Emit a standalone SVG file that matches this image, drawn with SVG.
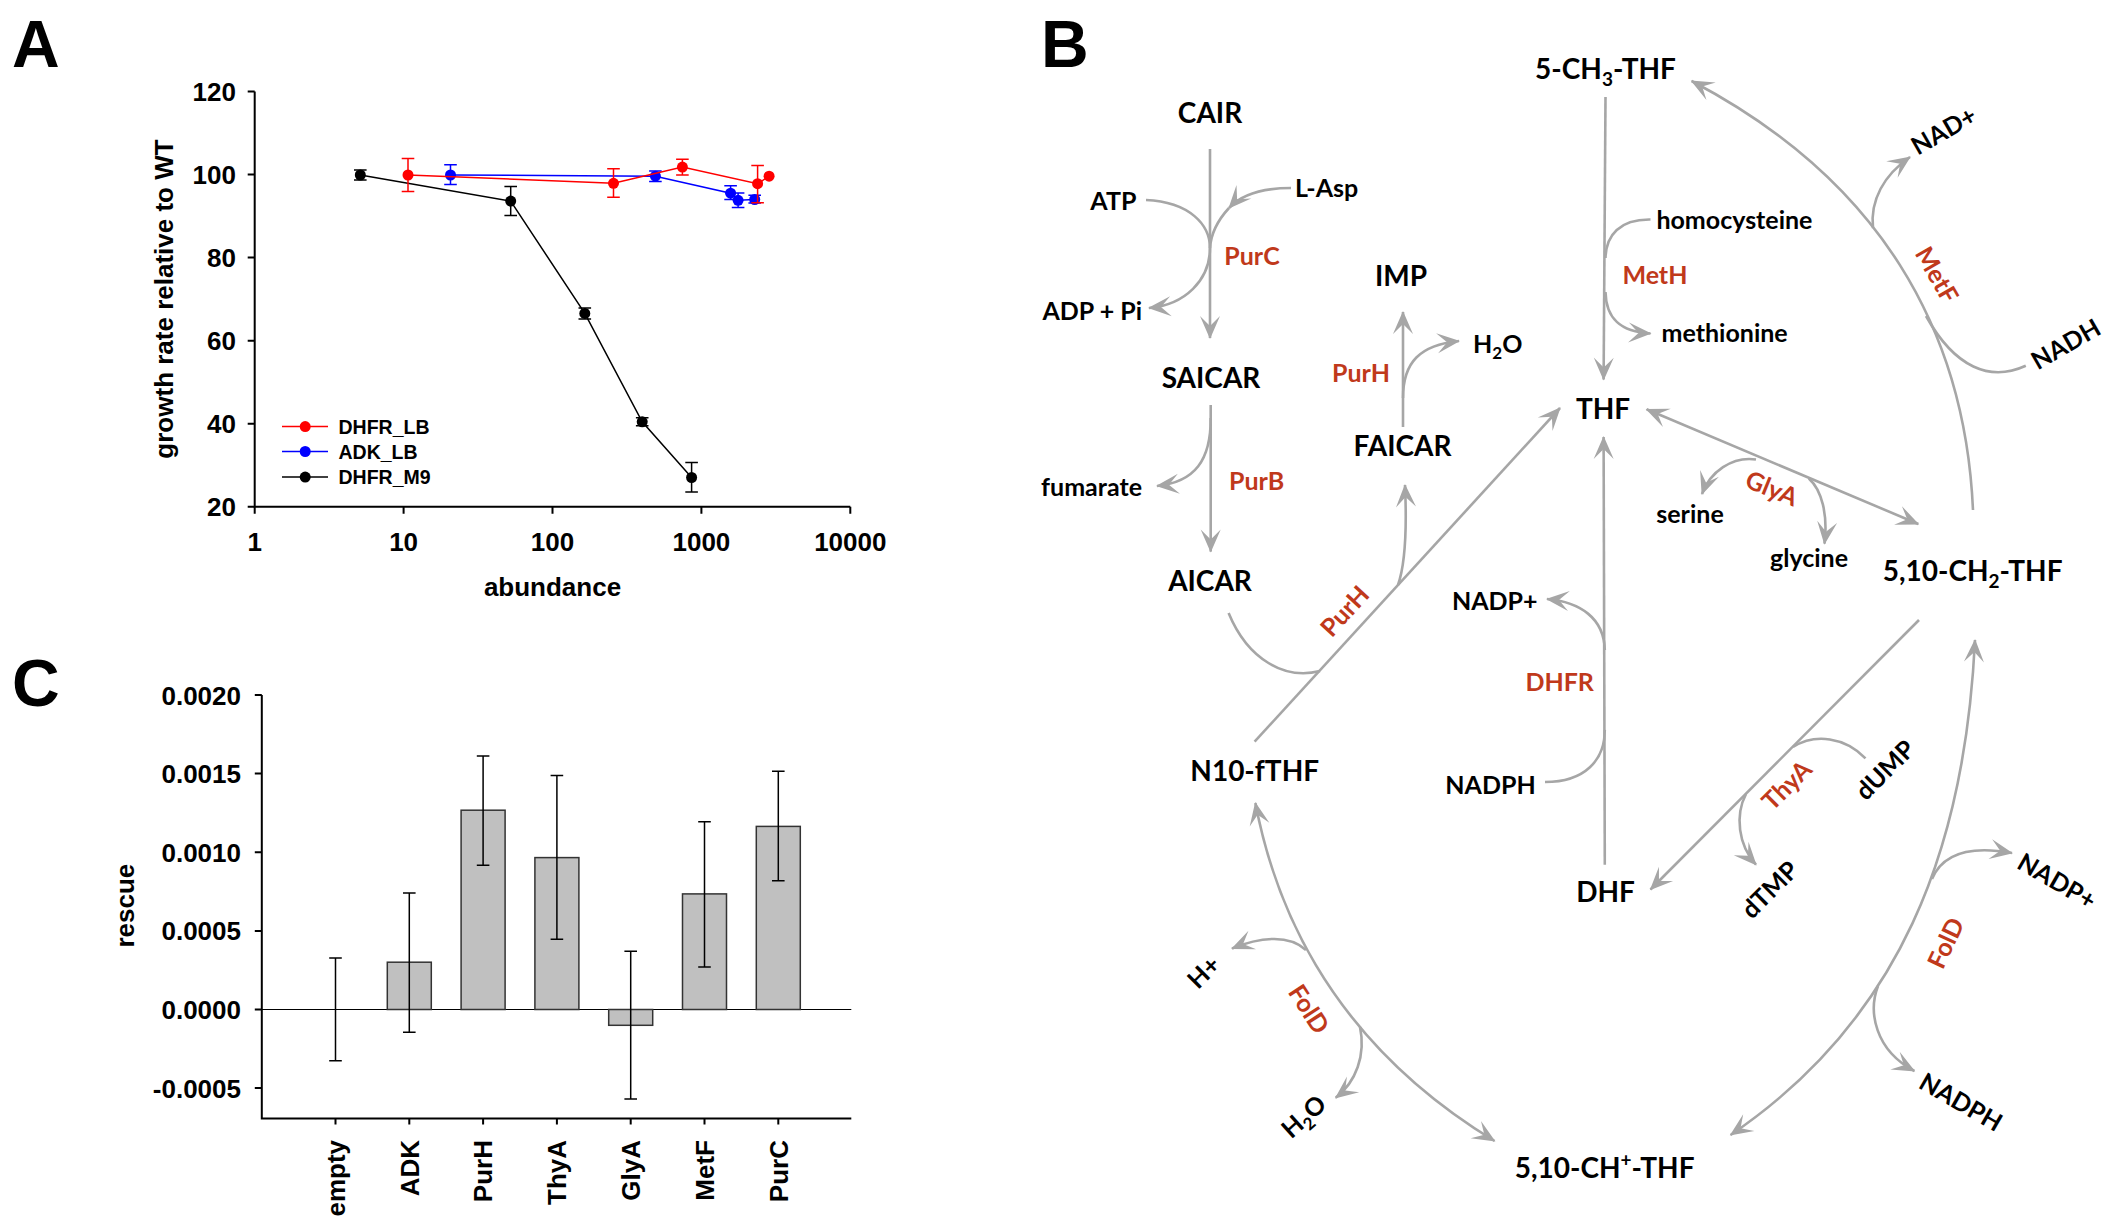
<svg xmlns="http://www.w3.org/2000/svg" width="2113" height="1227" viewBox="0 0 2113 1227">
<defs>
<marker id="ah" viewBox="-24 -12 26 24" markerWidth="26" markerHeight="24" refX="0" refY="0" orient="auto-start-reverse" markerUnits="userSpaceOnUse">
<path d="M1,0 L-22,-10 L-12,0 L-22,10 Z" fill="#A6A6A6"/>
</marker>
</defs>
<style>
.lbl{font-family:"Liberation Sans",Arial,sans-serif;font-weight:bold;font-size:66px;fill:#000}
.ax{font-family:"Liberation Sans",Arial,sans-serif;font-weight:bold;font-size:26px;fill:#000}
.ty{text-anchor:end}
.tx{text-anchor:middle}
.leg{font-family:"Liberation Sans",Arial,sans-serif;font-weight:bold;font-size:19.5px;fill:#000}
.axis{fill:none;stroke:#000;stroke-width:2}
.m{font-family:Lato,"Open Sans",sans-serif;font-weight:bold;font-size:28px;fill:#000;text-anchor:middle}
.c{font-family:Lato,"Open Sans",sans-serif;font-weight:bold;font-size:25px;fill:#000}
.e{font-family:Lato,"Open Sans",sans-serif;font-weight:bold;font-size:25px;fill:#C0391B}
.mid{text-anchor:middle}
.end{text-anchor:end}
.cn{fill:none;stroke:#A6A6A6;stroke-width:2.6}
.arr{marker-end:url(#ah)}
.arr2{marker-start:url(#ah);marker-end:url(#ah)}
.bar{fill:#C0C0C0;stroke:#333;stroke-width:1.5}
.err{fill:none;stroke:#000;stroke-width:1.5}
</style>
<rect width="2113" height="1227" fill="#fff"/>

<!-- Panel labels -->
<text class="lbl" x="12" y="67">A</text>
<text class="lbl" x="1041" y="67">B</text>
<text class="lbl" x="12" y="706">C</text>

<!-- Panel A -->
<g id="panelA">
<path class="axis" d="M254.7,91.6 V506.7 H850.3"/>
<path class="axis" d="M247.7,91.6H254.7 M247.7,174.6H254.7 M247.7,257.6H254.7 M247.7,340.7H254.7 M247.7,423.7H254.7 M247.7,506.7H254.7 M254.7,506.7V513.7 M403.6,506.7V513.7 M552.5,506.7V513.7 M701.4,506.7V513.7 M850.3,506.7V513.7"/>
<g class="ax ty">
<text x="236" y="101">120</text>
<text x="236" y="184">100</text>
<text x="236" y="267">80</text>
<text x="236" y="350">60</text>
<text x="236" y="433">40</text>
<text x="236" y="516">20</text>
</g>
<g class="ax tx">
<text x="254.7" y="551">1</text>
<text x="403.6" y="551">10</text>
<text x="552.5" y="551">100</text>
<text x="701.4" y="551">1000</text>
<text x="850.3" y="551">10000</text>
<text x="552.5" y="596">abundance</text>
<text transform="translate(173,299) rotate(-90)" x="0" y="0">growth rate relative to WT</text>
</g>
<!-- DHFR_M9 black -->
<g stroke="#000" stroke-width="1.5" fill="none">
<polyline points="360.3,175 510.7,201.1 584.8,313.4 642.2,421.8 691.6,477.5"/>
<path d="M360.3,170V180 M354,170H366.6 M354,180H366.6 M510.7,186.5V215.4 M504.4,186.5H517 M504.4,215.4H517 M584.8,307.9V319 M578.5,307.9H591.1 M578.5,319H591.1 M642.2,417.8V425.7 M635.9,417.8H648.5 M635.9,425.7H648.5 M691.6,462.5V492.1 M685.3,462.5H697.9 M685.3,492.1H697.9"/>
</g>
<g fill="#000"><circle cx="360.3" cy="175" r="5.5"/><circle cx="510.7" cy="201.1" r="5.5"/><circle cx="584.8" cy="313.4" r="5.5"/><circle cx="642.2" cy="421.8" r="5.5"/><circle cx="691.6" cy="477.5" r="5.5"/></g>
<!-- ADK_LB blue -->
<g stroke="#0000FF" stroke-width="1.5" fill="none">
<polyline points="450.5,175 655.4,176.2 730.6,193.2 738.1,200.3 754.7,199.5"/>
<path d="M450.5,164.8V184.5 M444.2,164.8H456.8 M444.2,184.5H456.8 M655.4,171.1V181.4 M649.1,171.1H661.7 M649.1,181.4H661.7 M730.6,185.7V199.5 M724.3,185.7H736.9 M724.3,199.5H736.9 M738.1,193.1V207.5 M731.8,193.1H744.4 M731.8,207.5H744.4 M754.7,195.2V203.1 M748.4,195.2H761 M748.4,203.1H761"/>
</g>
<g fill="#0000FF"><circle cx="450.5" cy="175" r="5.5"/><circle cx="655.4" cy="176.2" r="5.5"/><circle cx="730.6" cy="193.2" r="5.5"/><circle cx="738.1" cy="200.3" r="5.5"/><circle cx="754.7" cy="199.5" r="5.5"/></g>
<!-- DHFR_LB red -->
<g stroke="#FF0000" stroke-width="1.5" fill="none">
<polyline points="408,175 613.5,183.3 682.4,167.1 757.6,183.7 769.1,176.2"/>
<path d="M408,158.4V191.6 M401.7,158.4H414.3 M401.7,191.6H414.3 M613.5,168.7V197.2 M607.2,168.7H619.8 M607.2,197.2H619.8 M682.4,159.2V175 M676.1,159.2H688.7 M676.1,175H688.7 M757.6,165.5V202.7 M751.3,165.5H763.9 M751.3,202.7H763.9"/>
</g>
<g fill="#FF0000"><circle cx="408" cy="175" r="5.5"/><circle cx="613.5" cy="183.3" r="5.5"/><circle cx="682.4" cy="167.1" r="5.5"/><circle cx="757.6" cy="183.7" r="5.5"/><circle cx="769.1" cy="176.2" r="5.5"/></g>
<!-- legend -->
<g id="legend">
<path d="M282,426.6H328" stroke="#FF0000" stroke-width="1.5"/><circle cx="305.2" cy="426.6" r="5.5" fill="#FF0000"/>
<path d="M282,451.5H328" stroke="#0000FF" stroke-width="1.5"/><circle cx="305.2" cy="451.5" r="5.5" fill="#0000FF"/>
<path d="M282,477.1H328" stroke="#000" stroke-width="1.5"/><circle cx="305.2" cy="477.1" r="5.5" fill="#000"/>
<text class="leg" x="338.5" y="433.6">DHFR_LB</text>
<text class="leg" x="338.5" y="458.5">ADK_LB</text>
<text class="leg" x="338.5" y="484.1">DHFR_M9</text>
</g>
</g>

<!-- Panel C -->
<g id="panelC">
<path d="M261.8,1009.5H851.3" stroke="#000" stroke-width="1.2"/>
<g class="bar">
<rect x="387.3" y="962.2" width="44" height="47.3"/>
<rect x="461.1" y="810.2" width="44" height="199.3"/>
<rect x="534.9" y="857.6" width="44" height="151.9"/>
<rect x="608.7" y="1009.5" width="44" height="15.8"/>
<rect x="682.5" y="893.9" width="44" height="115.6"/>
<rect x="756.3" y="826.4" width="44" height="183.1"/>
</g>
<path class="err" d="M335.5,958.1V1060.7 M329.2,958.1H341.8 M329.2,1060.7H341.8 M409.3,893.1V1032.2 M403,893.1H415.6 M403,1032.2H415.6 M483.1,755.9V865.3 M476.8,755.9H489.4 M476.8,865.3H489.4 M556.9,775.5V939.3 M550.6,775.5H563.2 M550.6,939.3H563.2 M630.7,951.3V1098.9 M624.4,951.3H637 M624.4,1098.9H637 M704.5,821.8V967.1 M698.2,821.8H710.8 M698.2,967.1H710.8 M778.3,771.3V880.8 M772,771.3H784.6 M772,880.8H784.6"/>
<path class="axis" d="M261.8,695 V1118.5 H851.3"/>
<path class="axis" d="M254.8,695H261.8 M254.8,773.6H261.8 M254.8,852.3H261.8 M254.8,930.9H261.8 M254.8,1009.5H261.8 M254.8,1088.1H261.8 M335.5,1118.5V1124.5 M409.3,1118.5V1124.5 M483.1,1118.5V1124.5 M556.9,1118.5V1124.5 M630.7,1118.5V1124.5 M704.5,1118.5V1124.5 M778.3,1118.5V1124.5"/>
<g class="ax ty">
<text x="241" y="704.5">0.0020</text>
<text x="241" y="783.1">0.0015</text>
<text x="241" y="861.8">0.0010</text>
<text x="241" y="940.4">0.0005</text>
<text x="241" y="1019">0.0000</text>
<text x="241" y="1097.6">-0.0005</text>
<text transform="translate(134,905.6) rotate(-90)" class="tx">rescue</text>
<text transform="translate(344.8,1140) rotate(-90)">empty</text>
<text transform="translate(418.6,1140) rotate(-90)">ADK</text>
<text transform="translate(492.4,1140) rotate(-90)">PurH</text>
<text transform="translate(566.2,1140) rotate(-90)">ThyA</text>
<text transform="translate(640,1140) rotate(-90)">GlyA</text>
<text transform="translate(713.8,1140) rotate(-90)">MetF</text>
<text transform="translate(787.6,1140) rotate(-90)">PurC</text>
</g>
</g>

<!-- Panel B connectors -->
<g id="connectors" class="cn">
<path class="arr" d="M1210,149 L1210,338"/>
<path class="arr" d="M1146,200 C1190,202 1210,225 1210,248 C1210,280 1185,305 1149,308"/>
<path class="arr" d="M1291,188 C1260,188 1240,196 1229,208"/>
<path d="M1229,208 C1218,220 1211,232 1210,248"/>
<path class="arr" d="M1210.7,405 L1210.7,551.6"/>
<path class="arr" d="M1210.7,418 C1211,460 1195,482 1157,486"/>
<path class="arr" d="M1403,427 L1403,312"/>
<path class="arr" d="M1403,398 C1403,362 1420,345 1459,341"/>
<path d="M1228.6,613 C1248,660 1285,680 1320,671"/>
<path class="arr" d="M1254.6,741.7 L1560,408"/>
<path class="arr" d="M1398,585 C1405,565 1407,530 1405,485"/>
<path class="arr" d="M1605.5,97 L1603.6,379.6"/>
<path d="M1650.5,219.5 C1620,219 1606,235 1605.5,258"/>
<path class="arr" d="M1605.5,292 C1606,318 1620,332 1650.5,333.5"/>
<path class="arr2" d="M1646.6,409.3 L1918.3,524"/>
<path class="arr" d="M1756,459.5 C1732,456 1710,472 1702,494"/>
<path class="arr" d="M1808.8,478.4 C1822,490 1828,515 1824.5,543.7"/>
<path class="arr" d="M1973,510 C1965,330 1880,180 1691.6,81"/>
<path class="arr" d="M1873,228 C1870,200 1884,175 1910,157"/>
<path d="M2025.8,365.8 C1990,382 1955,368 1926,316"/>
<path class="arr" d="M1604.8,864.7 L1603.6,437"/>
<path class="arr" d="M1604.8,650 C1604,618 1580,602 1547,599"/>
<path d="M1545,782 C1585,782 1604.8,760 1604.8,730"/>
<path class="arr" d="M1919,620 L1650.5,889.5"/>
<path d="M1865.5,758.3 C1845,737 1815,733 1793,747"/>
<path class="arr" d="M1746,794 C1735,815 1738,845 1756,864.7"/>
<path class="arr2" d="M1975,640 C1965,850 1900,1020 1730.6,1135"/>
<path class="arr" d="M1932,879 C1942,855 1968,845 2012,853"/>
<path class="arr" d="M1878,986 C1868,1012 1875,1050 1914.4,1071"/>
<path class="arr2" d="M1255.4,803 C1272,890 1320,1035 1494.6,1141"/>
<path class="arr" d="M1306,950 C1290,935 1262,936 1232,948.5"/>
<path class="arr" d="M1360,1027 C1366,1055 1356,1082 1335.7,1097.8"/>
</g>

<!-- Panel B metabolites -->
<g id="n-5ch3thf"><text class="m" x="1605.5" y="79">5-CH<tspan font-size="19" dy="7">3</tspan><tspan dy="-7">-THF</tspan></text></g>
<g id="n-cair"><text class="m" x="1210" y="123">CAIR</text></g>
<g id="n-imp"><text class="m" x="1401" y="285.5">IMP</text></g>
<g id="n-saicar"><text class="m" x="1211" y="387.5">SAICAR</text></g>
<g id="n-faicar"><text class="m" x="1402.5" y="455.5">FAICAR</text></g>
<g id="n-aicar"><text class="m" x="1210" y="591">AICAR</text></g>
<g id="n-thf"><text class="m" x="1603" y="419">THF</text></g>
<g id="n-ch2thf"><text class="m" x="1972.6" y="581">5,10-CH<tspan font-size="19" dy="7">2</tspan><tspan dy="-7">-THF</tspan></text></g>
<g id="n-n10fthf"><text class="m" x="1254.7" y="781.4">N10-fTHF</text></g>
<g id="n-dhf"><text class="m" x="1605.5" y="901.8">DHF</text></g>
<g id="n-chthf"><text class="m" x="1604.6" y="1178.3">5,10-CH<tspan font-size="19" dy="-11">+</tspan><tspan dy="11">-THF</tspan></text></g>

<!-- cofactors -->
<g id="c-atp"><text class="c end" x="1136.4" y="209.6">ATP</text></g>
<g id="c-lasp"><text class="c" x="1295" y="196.5">L-Asp</text></g>
<g id="c-adppi"><text class="c end" x="1142" y="319.5">ADP + Pi</text></g>
<g id="c-h2o-top"><text class="c" x="1473" y="353">H<tspan font-size="17" dy="6">2</tspan><tspan dy="-6">O</tspan></text></g>
<g id="c-fumarate"><text class="c end" x="1142" y="495.5">fumarate</text></g>
<g id="c-homocysteine"><text class="c" x="1656.4" y="229.3">homocysteine</text></g>
<g id="c-methionine"><text class="c" x="1661.5" y="342">methionine</text></g>
<g id="c-serine"><text class="c mid" x="1690" y="522.7">serine</text></g>
<g id="c-glycine"><text class="c mid" x="1809" y="567.4">glycine</text></g>
<g id="c-nadp-l"><text class="c end" x="1537.5" y="609.7">NADP+</text></g>
<g id="c-nadph-l"><text class="c end" x="1535.7" y="793.7">NADPH</text></g>
<g id="c-nad"><text class="c mid" transform="translate(1943.7,130.5) rotate(-30)" y="9">NAD+</text></g>
<g id="c-nadh"><text class="c mid" transform="translate(2065.7,344) rotate(-30)" y="9">NADH</text></g>
<g id="c-dump"><text class="c mid" transform="translate(1885,769.8) rotate(-45)" y="9">dUMP</text></g>
<g id="c-dtmp"><text class="c mid" transform="translate(1769.7,889.5) rotate(-45)" y="9">dTMP</text></g>
<g id="c-nadp-r"><text class="c mid" transform="translate(2057,881) rotate(30)" y="9">NADP+</text></g>
<g id="c-nadph-r"><text class="c mid" transform="translate(1961,1102) rotate(30)" y="9">NADPH</text></g>
<g id="c-hplus"><text class="c mid" transform="translate(1203.6,972) rotate(-45)" y="9">H+</text></g>
<g id="c-h2o-l"><text class="c mid" transform="translate(1303.6,1116.4) rotate(-42)" y="9">H<tspan font-size="17" dy="6">2</tspan><tspan dy="-6">O</tspan></text></g>

<!-- enzymes -->
<g id="e-purc"><text class="e" x="1224.3" y="265">PurC</text></g>
<g id="e-purh1"><text class="e" x="1332" y="382">PurH</text></g>
<g id="e-purb"><text class="e" x="1229" y="490.3">PurB</text></g>
<g id="e-meth"><text class="e" x="1622.4" y="284">MetH</text></g>
<g id="e-dhfr"><text class="e" x="1525.4" y="691.4">DHFR</text></g>
<g id="e-purh2"><text class="e mid" transform="translate(1344.6,611) rotate(-47.5)" y="9">PurH</text></g>
<g id="e-glya"><text class="e mid" transform="translate(1771.7,488.3) rotate(22)" y="9">GlyA</text></g>
<g id="e-metf"><text class="e mid" transform="translate(1937,274.8) rotate(60)" y="9">MetF</text></g>
<g id="e-thya"><text class="e mid" transform="translate(1786.6,785) rotate(-45)" y="9">ThyA</text></g>
<g id="e-fold-r"><text class="e mid" transform="translate(1945.7,943) rotate(-65)" y="9">FolD</text></g>
<g id="e-fold-l"><text class="e mid" transform="translate(1309,1009) rotate(57)" y="9">FolD</text></g>
</svg>
